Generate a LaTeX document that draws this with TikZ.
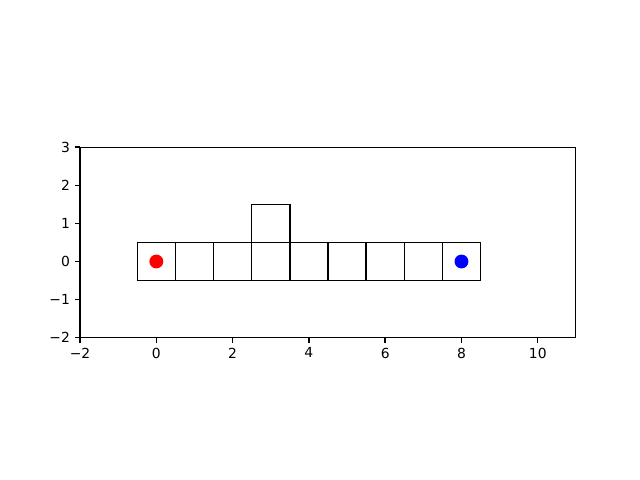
\documentclass[tikz,border=0pt]{standalone}
\usepackage{fontspec}
\setmainfont{DejaVu Sans}
\begin{document}
\begin{tikzpicture}[x=0.02cm,y=-0.02cm]
\tikzset{
  axisline/.style={line width=0.63pt, line cap=rect},
  tickline/.style={line width=0.8pt},
  cell/.style={draw, line width=0.79pt, minimum size=0.763077cm, inner sep=0pt, outer sep=0pt, anchor=center},
  dot/.style={circle, inner sep=0pt, minimum size=0.278cm},
  ticklab/.style={font=\fontsize{7.9}{9.5}\selectfont, inner sep=0pt}
}
\useasboundingbox (0,0) rectangle (640,480);
\begin{scope}[shift={(156.31,261.5)}, x=0.763077cm, y=0.763077cm]
  % axes frame
  \draw[axisline] (-2,-2) rectangle (11,3);
  % ticks and labels
  \foreach \v/\t in {-2/−2, 0/0, 2/2, 4/4, 6/6, 8/8, 10/10} {
    \draw[tickline] (\v,-2) -- (\v,-2.135);
    \node[ticklab, anchor=north] (xl\v) at (\v,-2.255) {\t};
  }
  \foreach \v/\t in {-2/−2, -1/−1, 0/0, 1/1, 2/2, 3/3} {
    \draw[tickline] (-2,\v) -- (-2.135,\v);
    \node[ticklab, anchor=east] (yl\v) at (-2.255,\v) {\t};
  }
  % cells
  \foreach \i in {0,...,8} {
    \node[cell] (c\i) at (\i,0) {};
  }
  \node[cell] (ct) at (3,1) {};
  % dots
  \node[dot, fill={rgb,255:red,255;green,0;blue,0}] (start) at (0,0) {};
  \node[dot, fill={rgb,255:red,0;green,0;blue,255}] (goal) at (8,0) {};
\end{scope}
\end{tikzpicture}
\end{document}
